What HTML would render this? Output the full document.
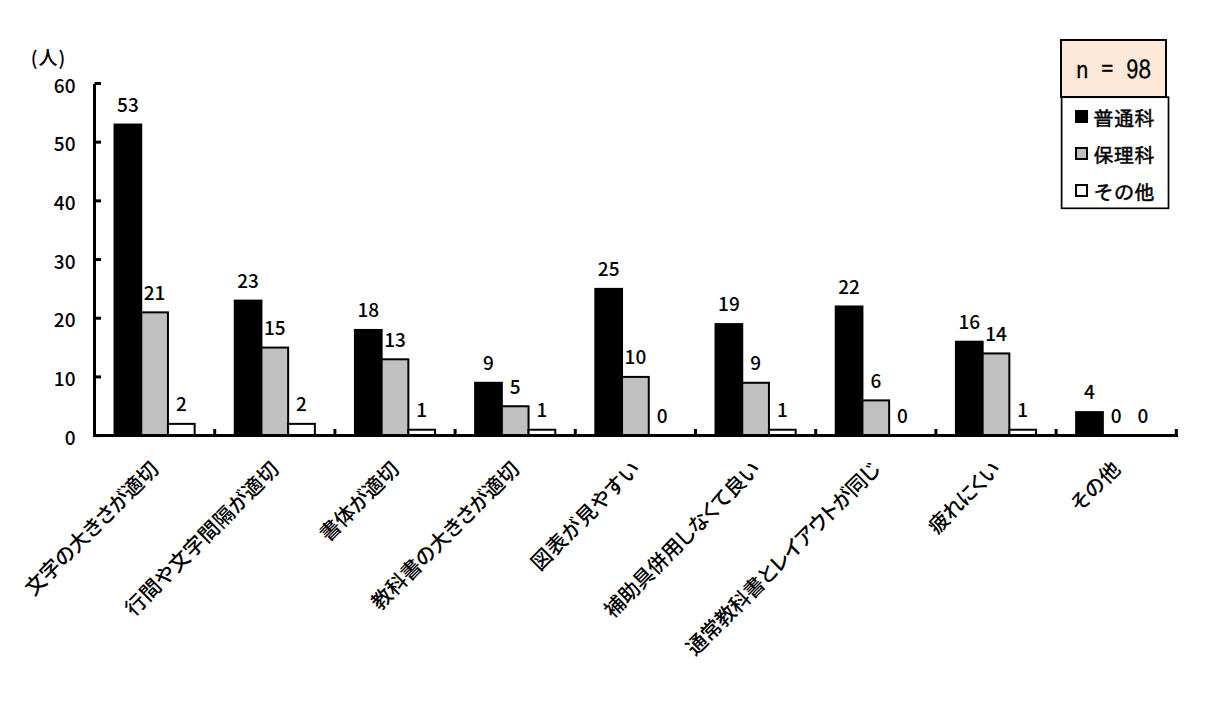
<!DOCTYPE html>
<html lang="ja"><head><meta charset="utf-8"><title>chart</title>
<style>
html,body{margin:0;padding:0;background:#fff;}
body{width:1207px;height:722px;overflow:hidden;position:relative;}
svg{position:absolute;left:0;top:0;}
.v{font-family:"Noto Sans CJK JP",sans-serif;font-size:19px;fill:#000;font-weight:500;}
.xl{font-family:"Liberation Sans","Noto Sans CJK JP",sans-serif;font-size:20.5px;fill:#000;font-feature-settings:"palt";font-weight:500;}
.unit{font-family:"Noto Sans CJK JP",sans-serif;font-size:19px;fill:#000;font-weight:500;letter-spacing:1px;}
.nbox{position:absolute;left:1060px;top:39px;width:103px;height:55px;background:#FDE9D9;border:2px solid #000;
 font-family:"IPAGothic","Liberation Mono",monospace;font-size:25px;line-height:58px;text-align:center;color:#000;-webkit-text-stroke:0.3px #000;}
.leg{position:absolute;left:1062px;top:98px;width:107px;height:112px;}
.li{position:absolute;left:31.3px;font-family:"IPAGothic","Noto Sans CJK JP",sans-serif;font-size:20.5px;line-height:20px;color:#000;white-space:nowrap;-webkit-text-stroke:0.5px #000;}
.sw{position:absolute;left:13px;width:9.4px;height:9.1px;border:2px solid #000;}
</style></head><body>
<svg width="1207" height="722" viewBox="0 0 1207 722">
<text class="unit" x="30.7" y="64.6">(人)</text>
<rect x="114.53" y="124.54" width="26.71" height="311.06" fill="#000000" stroke="#000" stroke-width="2.0"/>
<text class="v" x="127.89" y="111.84" text-anchor="middle">53</text>
<rect x="141.24" y="312.35" width="26.71" height="123.25" fill="#C0C0C0" stroke="#000" stroke-width="2.0"/>
<text class="v" x="154.60" y="299.65" text-anchor="middle">21</text>
<rect x="167.96" y="423.86" width="26.71" height="11.74" fill="#FFFFFF" stroke="#000" stroke-width="2.0"/>
<text class="v" x="181.31" y="411.16" text-anchor="middle">2</text>
<text class="xl" text-anchor="end" textLength="178.52" lengthAdjust="spacing" transform="translate(160.10,470.60) rotate(-45)">文字の大きさが適切</text>
<rect x="234.73" y="300.61" width="26.71" height="134.99" fill="#000000" stroke="#000" stroke-width="2.0"/>
<text class="v" x="248.09" y="287.91" text-anchor="middle">23</text>
<rect x="261.44" y="347.57" width="26.71" height="88.03" fill="#C0C0C0" stroke="#000" stroke-width="2.0"/>
<text class="v" x="274.80" y="334.87" text-anchor="middle">15</text>
<rect x="288.16" y="423.86" width="26.71" height="11.74" fill="#FFFFFF" stroke="#000" stroke-width="2.0"/>
<text class="v" x="301.51" y="411.16" text-anchor="middle">2</text>
<text class="xl" text-anchor="end" textLength="207.23" lengthAdjust="spacing" transform="translate(280.30,470.60) rotate(-45)">行間や文字間隔が適切</text>
<rect x="354.93" y="329.96" width="26.71" height="105.64" fill="#000000" stroke="#000" stroke-width="2.0"/>
<text class="v" x="368.29" y="317.26" text-anchor="middle">18</text>
<rect x="381.64" y="359.30" width="26.71" height="76.30" fill="#C0C0C0" stroke="#000" stroke-width="2.0"/>
<text class="v" x="395.00" y="346.60" text-anchor="middle">13</text>
<rect x="408.36" y="429.73" width="26.71" height="5.87" fill="#FFFFFF" stroke="#000" stroke-width="2.0"/>
<text class="v" x="421.71" y="417.03" text-anchor="middle">1</text>
<text class="xl" text-anchor="end" textLength="102.08" lengthAdjust="spacing" transform="translate(400.50,470.60) rotate(-45)">書体が適切</text>
<rect x="475.13" y="382.78" width="26.71" height="52.82" fill="#000000" stroke="#000" stroke-width="2.0"/>
<text class="v" x="488.49" y="370.08" text-anchor="middle">9</text>
<rect x="501.84" y="406.25" width="26.71" height="29.35" fill="#C0C0C0" stroke="#000" stroke-width="2.0"/>
<text class="v" x="515.20" y="393.56" text-anchor="middle">5</text>
<rect x="528.56" y="429.73" width="26.71" height="5.87" fill="#FFFFFF" stroke="#000" stroke-width="2.0"/>
<text class="v" x="541.91" y="417.03" text-anchor="middle">1</text>
<text class="xl" text-anchor="end" textLength="199.02" lengthAdjust="spacing" transform="translate(520.70,470.60) rotate(-45)">教科書の大きさが適切</text>
<rect x="595.33" y="288.88" width="26.71" height="146.73" fill="#000000" stroke="#000" stroke-width="2.0"/>
<text class="v" x="608.69" y="276.18" text-anchor="middle">25</text>
<rect x="622.04" y="376.91" width="26.71" height="58.69" fill="#C0C0C0" stroke="#000" stroke-width="2.0"/>
<text class="v" x="635.40" y="364.21" text-anchor="middle">10</text>
<text class="v" x="662.11" y="422.90" text-anchor="middle">0</text>
<text class="xl" text-anchor="end" textLength="143.23" lengthAdjust="spacing" transform="translate(640.90,470.60) rotate(-45)">図表が見やすい</text>
<rect x="715.53" y="324.09" width="26.71" height="111.51" fill="#000000" stroke="#000" stroke-width="2.0"/>
<text class="v" x="728.89" y="311.39" text-anchor="middle">19</text>
<rect x="742.24" y="382.78" width="26.71" height="52.82" fill="#C0C0C0" stroke="#000" stroke-width="2.0"/>
<text class="v" x="755.60" y="370.08" text-anchor="middle">9</text>
<rect x="768.96" y="429.73" width="26.71" height="5.87" fill="#FFFFFF" stroke="#000" stroke-width="2.0"/>
<text class="v" x="782.31" y="417.03" text-anchor="middle">1</text>
<text class="xl" text-anchor="end" textLength="209.74" lengthAdjust="spacing" transform="translate(761.10,470.60) rotate(-45)">補助具併用しなくて良い</text>
<rect x="835.73" y="306.48" width="26.71" height="129.12" fill="#000000" stroke="#000" stroke-width="2.0"/>
<text class="v" x="849.09" y="293.78" text-anchor="middle">22</text>
<rect x="862.44" y="400.39" width="26.71" height="35.21" fill="#C0C0C0" stroke="#000" stroke-width="2.0"/>
<text class="v" x="875.80" y="387.69" text-anchor="middle">6</text>
<text class="v" x="902.51" y="422.90" text-anchor="middle">0</text>
<text class="xl" text-anchor="end" textLength="263.32" lengthAdjust="spacing" transform="translate(881.30,470.60) rotate(-45)">通常教科書とレイアウトが同じ</text>
<rect x="955.93" y="341.70" width="26.71" height="93.90" fill="#000000" stroke="#000" stroke-width="2.0"/>
<text class="v" x="969.29" y="329.00" text-anchor="middle">16</text>
<rect x="982.64" y="353.43" width="26.71" height="82.17" fill="#C0C0C0" stroke="#000" stroke-width="2.0"/>
<text class="v" x="996.00" y="340.73" text-anchor="middle">14</text>
<rect x="1009.36" y="429.73" width="26.71" height="5.87" fill="#FFFFFF" stroke="#000" stroke-width="2.0"/>
<text class="v" x="1022.71" y="417.03" text-anchor="middle">1</text>
<text class="xl" text-anchor="end" textLength="91.30" lengthAdjust="spacing" transform="translate(1001.50,470.60) rotate(-45)">疲れにくい</text>
<rect x="1076.13" y="412.12" width="26.71" height="23.48" fill="#000000" stroke="#000" stroke-width="2.0"/>
<text class="v" x="1089.49" y="399.42" text-anchor="middle">4</text>
<text class="v" x="1116.20" y="422.90" text-anchor="middle">0</text>
<text class="v" x="1142.91" y="422.90" text-anchor="middle">0</text>
<text class="xl" text-anchor="end" textLength="59.98" lengthAdjust="spacing" transform="translate(1121.70,470.60) rotate(-45)">その他</text>
<line x1="94.5" y1="84" x2="94.5" y2="437" stroke="#000" stroke-width="3"/>
<line x1="94.5" y1="435.60" x2="101" y2="435.60" stroke="#000" stroke-width="3"/>
<text class="v" x="75.5" y="444.80" text-anchor="end">0</text>
<line x1="94.5" y1="376.91" x2="101" y2="376.91" stroke="#000" stroke-width="3"/>
<text class="v" x="75.5" y="386.11" text-anchor="end">10</text>
<line x1="94.5" y1="318.22" x2="101" y2="318.22" stroke="#000" stroke-width="3"/>
<text class="v" x="75.5" y="327.42" text-anchor="end">20</text>
<line x1="94.5" y1="259.53" x2="101" y2="259.53" stroke="#000" stroke-width="3"/>
<text class="v" x="75.5" y="268.73" text-anchor="end">30</text>
<line x1="94.5" y1="200.84" x2="101" y2="200.84" stroke="#000" stroke-width="3"/>
<text class="v" x="75.5" y="210.04" text-anchor="end">40</text>
<line x1="94.5" y1="142.15" x2="101" y2="142.15" stroke="#000" stroke-width="3"/>
<text class="v" x="75.5" y="151.35" text-anchor="end">50</text>
<line x1="94.5" y1="83.46" x2="101" y2="83.46" stroke="#000" stroke-width="3"/>
<text class="v" x="75.5" y="92.66" text-anchor="end">60</text>
<line x1="93" y1="435.50" x2="1178" y2="435.50" stroke="#000" stroke-width="2.8"/>
<line x1="214.70" y1="429" x2="214.70" y2="437" stroke="#000" stroke-width="3"/>
<line x1="334.90" y1="429" x2="334.90" y2="437" stroke="#000" stroke-width="3"/>
<line x1="455.10" y1="429" x2="455.10" y2="437" stroke="#000" stroke-width="3"/>
<line x1="575.30" y1="429" x2="575.30" y2="437" stroke="#000" stroke-width="3"/>
<line x1="695.50" y1="429" x2="695.50" y2="437" stroke="#000" stroke-width="3"/>
<line x1="815.70" y1="429" x2="815.70" y2="437" stroke="#000" stroke-width="3"/>
<line x1="935.90" y1="429" x2="935.90" y2="437" stroke="#000" stroke-width="3"/>
<line x1="1056.10" y1="429" x2="1056.10" y2="437" stroke="#000" stroke-width="3"/>
<line x1="1176.30" y1="429" x2="1176.30" y2="437" stroke="#000" stroke-width="3"/>
<rect x="1061.6" y="97.2" width="106.9" height="111.1" fill="#fff" stroke="#000" stroke-width="1.7"/>
</svg>
<div class="nbox">n = 98</div>
<div class="leg">
<div class="sw" style="top:12.4px;background:#000"></div><div class="li" style="top:10px">普通科</div>
<div class="sw" style="top:49px;background:#C0C0C0"></div><div class="li" style="top:47px">保理科</div>
<div class="sw" style="top:86.4px;background:#fff"></div><div class="li" style="top:84px">その他</div>
</div>
</body></html>
